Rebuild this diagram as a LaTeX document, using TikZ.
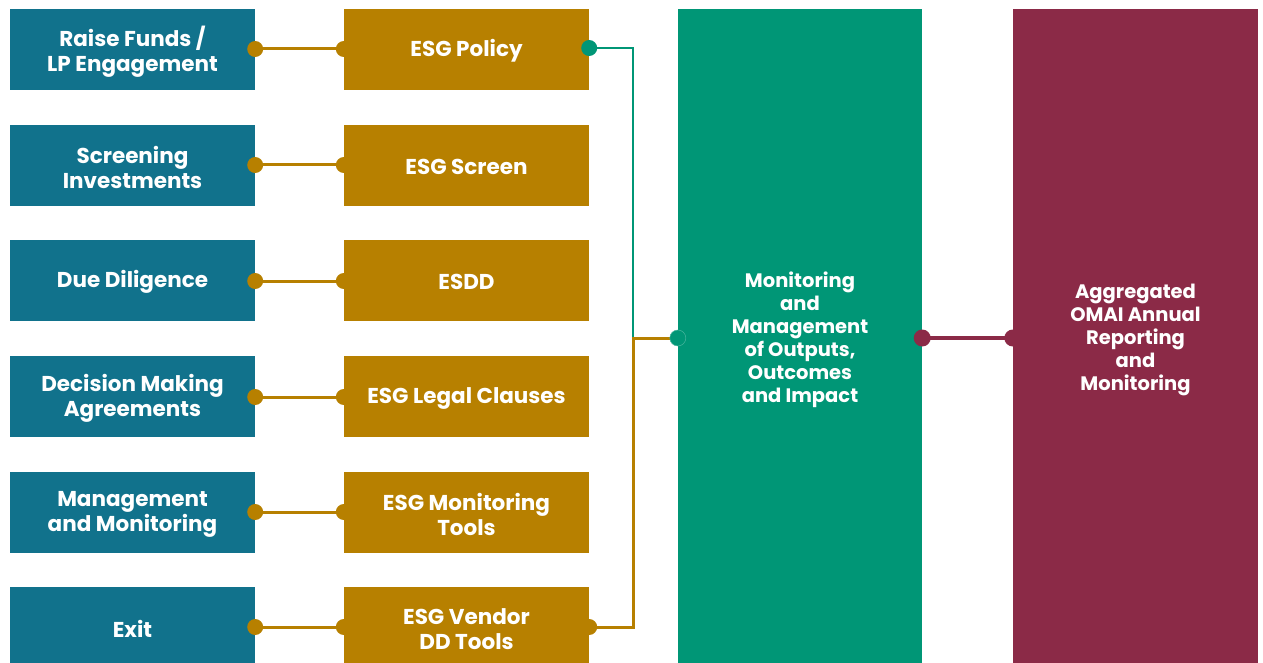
\documentclass[tikz,border=0pt]{standalone}
\usepackage{fontspec}
\setmainfont{Poppins}
\definecolor{cteal}{RGB}{17,114,140}
\definecolor{cgold}{RGB}{183,128,0}
\definecolor{cgreen}{RGB}{0,150,118}
\definecolor{cred}{RGB}{139,42,71}
\begin{document}
\begin{tikzpicture}[x=1pt,y=-1pt,
  box/.style={minimum width=245pt,minimum height=81pt,inner sep=0pt},
  lbox/.style={box,fill=cteal},
  mbox/.style={box,fill=cgold},
  txt/.style={text=white,align=center,inner sep=0pt,yshift=-1.5pt,font=\fontsize{21.5}{25}\selectfont\bfseries},
  bigtxt/.style={text=white,align=center,inner sep=0pt,yshift=-3.5pt,font=\fontsize{19.5}{23}\selectfont\bfseries},
  bigbox/.style={minimum width=244pt,minimum height=654pt,inner sep=0pt},
  gline/.style={draw=cgold,line width=3pt},
  tline/.style={draw=cgreen,line width=2.8pt},
  rline/.style={draw=cred,line width=3.2pt},
]
\useasboundingbox (0,0) rectangle (1263,663);
% left column
\node[lbox,label={[txt,yshift=-1pt]center:{Raise Funds /\\LP Engagement}}] (l1) at (132.5,49.5) {};
\node[lbox,label={[txt]center:{Screening\\Investments}}] (l2) at (132.5,165.5) {};
\node[lbox,label={[txt]center:{Due Diligence}}] (l3) at (132.5,280.5) {};
\node[lbox,label={[txt]center:{Decision Making\\Agreements}}] (l4) at (132.5,396.5) {};
\node[lbox,label={[txt]center:{Management\\and Monitoring}}] (l5) at (132.5,512.5) {};
\node[lbox,label={[txt]center:{Exit}}] (l6) at (132.5,627.5) {};
% middle column
\node[mbox,label={[txt]center:{ESG Policy}}] (m1) at (466.5,49.5) {};
\node[mbox,label={[txt]center:{ESG Screen}}] (m2) at (466.5,165.5) {};
\node[mbox,label={[txt]center:{ESDD}}] (m3) at (466.5,280.5) {};
\node[mbox,label={[txt]center:{ESG Legal Clauses}}] (m4) at (466.5,396.5) {};
\node[mbox,label={[txt]center:{ESG Monitoring\\Tools}}] (m5) at (466.5,512.5) {};
\node[mbox,label={[txt]center:{ESG Vendor\\DD Tools}}] (m6) at (466.5,627.5) {};
% big boxes
\node[bigbox,fill=cgreen,label={[bigtxt]center:{Monitoring\\and\\Management\\of Outputs,\\Outcomes\\and Impact}}] (g) at (800,336) {};
\node[bigbox,fill=cred,minimum width=245pt,label={[bigtxt]center:{Aggregated\\OMAI Annual\\Reporting\\and\\Monitoring}}] (r) at (1135.5,336) {};
% left-middle connectors
\foreach \i/\y in {1/49,2/165,3/281,4/397,5/512,6/627}{
  \coordinate (a\i) at (l\i.east |- 0,\y);
  \coordinate (b\i) at (m\i.west |- 0,\y);
  \draw[gline] (a\i) -- (b\i);
  \fill[cgold] (a\i) circle (8);
  \fill[cgold] (b\i) circle (8);
}
% trunk
\coordinate (j) at (633,338);
\coordinate (ge) at (g.west |- j);
\coordinate (c1) at (m1.east |- 0,48);
\coordinate (c6) at (m6.east |- 0,627);
\draw[tline] (c1) -| (j);
\draw[gline] (c6) -| (j) -- (ge);
\fill[cgreen] (c1) circle (8);
\fill[cgold] (c6) circle (8);
\draw[cgreen!70!white,line width=0.5pt,fill=cgreen] (ge) circle (8);
% green to red
\coordinate (ge2) at (g.east |- j);
\coordinate (rw) at (r.west |- j);
\draw[rline] (ge2) -- (rw);
\fill[cred] (ge2) circle (8.5);
\fill[cred] (rw) circle (8.5);
\end{tikzpicture}
\end{document}
